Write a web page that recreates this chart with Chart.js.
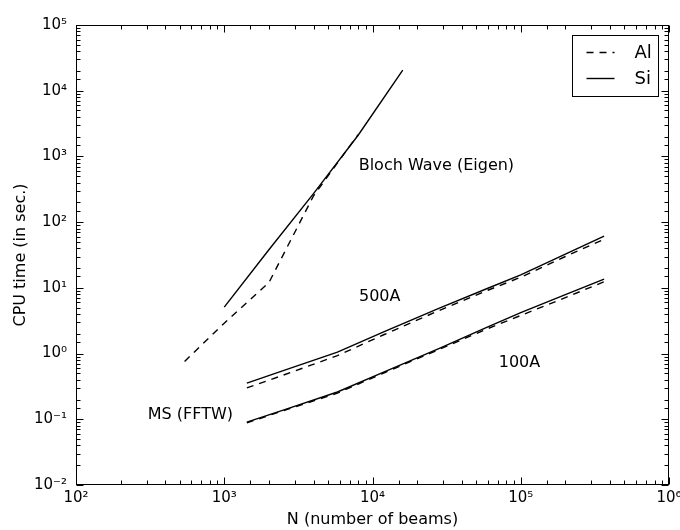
<!DOCTYPE html>
<html>
<head>
<meta charset="utf-8">
<script src="https://cdn.jsdelivr.net/npm/chart.js@4.4.1/dist/chart.umd.min.js"></script>
<style>
html, body { margin: 0; padding: 0; background: #fff; }
#wrap { width: 680px; height: 530px; }
</style>
</head>
<body>
<div id="wrap"><canvas id="chart" width="680" height="530"></canvas></div>
<script>
// Bloch wave (Eigen) timings
const blochAlN = [540, 1000, 2000, 4000, 8000];
const blochAlT = [0.76, 2.9, 12, 251, 2150];
const blochSiN = [1000, 2000, 4000, 8000, 16000];
const blochSiT = [5.1, 38, 272, 2100, 20600];

// multislice (FFTW) timings
const msN = [1420, 2500, 5800, 12000, 28000, 60000, 100000, 200000, 365000];
const ms500AlT = [0.30, 0.47, 0.93, 1.95, 4.5, 9.2, 14.5, 30, 55];
const ms500SiT = [0.356, 0.55, 1.05, 2.15, 4.86, 9.86, 15.8, 32.7, 61.4];
const ms100AlT = [0.088, 0.135, 0.25, 0.51, 1.15, 2.4, 3.8, 7.1, 12.4];
const ms100SiT = [0.0906, 0.138, 0.26, 0.526, 1.19, 2.55, 4.19, 7.87, 13.6];

const xRange = [1e2, 1e6];
const yRange = [1e-2, 1e5];

// text notes placed in data space
const notes = [
    { text: 'Bloch Wave (Eigen)', x: 8070, y: 715 },
    { text: '500A', x: 8110, y: 7.26 },
    { text: '100A', x: 71000, y: 0.718 },
    { text: 'MS (FFTW)', x: 305, y: 0.116 }
];
const legendLabels = ['Al', 'Si'];

const FONT = 'DejaVu Sans';
const DASH = [7, 6];

const sup = { '0': '\u2070', '1': '\u00b9', '2': '\u00b2', '3': '\u00b3', '4': '\u2074',
    '5': '\u2075', '6': '\u2076', '7': '\u2077', '8': '\u2078', '9': '\u2079', '-': '\u207b' };

function isPow10(v) {
    const e = Math.log10(v);
    return Math.abs(e - Math.round(e)) < 1e-9;
}
function powLabel(v) {
    if (!isPow10(v)) return '';
    const e = String(Math.round(Math.log10(v)));
    return '10' + e.split('').map(c => sup[c]).join('');
}
function pts(xs, ys) {
    return xs.map((x, i) => ({ x: x, y: ys[i] }));
}
function series(label, xs, ys, dashed) {
    return {
        label: label,
        data: pts(xs, ys),
        borderColor: '#000',
        borderWidth: 1.4,
        borderDash: dashed ? DASH : [],
        pointRadius: 0,
        tension: 0,
        fill: false
    };
}

const framePlugin = {
    id: 'frame',
    afterDraw(chart) {
        const { ctx, chartArea: a, scales } = chart;
        const L = Math.round(a.left) + 0.5, R = Math.round(a.right) - 0.5;
        const T = Math.round(a.top) + 0.5, B = Math.round(a.bottom) - 0.5;
        ctx.save();
        ctx.strokeStyle = '#000';
        ctx.lineWidth = 1;
        ctx.setLineDash([]);
        ctx.strokeRect(L, T, R - L, B - T);
        ctx.beginPath();
        scales.x.ticks.forEach(t => {
            const p = Math.round(scales.x.getPixelForValue(t.value)) + 0.5;
            const len = isPow10(t.value) ? 7 : 4;
            ctx.moveTo(p, B); ctx.lineTo(p, B - len);
            ctx.moveTo(p, T); ctx.lineTo(p, T + len);
        });
        scales.y.ticks.forEach(t => {
            const p = Math.round(scales.y.getPixelForValue(t.value)) + 0.5;
            const len = isPow10(t.value) ? 7 : 4;
            ctx.moveTo(L, p); ctx.lineTo(L + len, p);
            ctx.moveTo(R, p); ctx.lineTo(R - len, p);
        });
        ctx.stroke();

        // notes
        ctx.fillStyle = '#000';
        ctx.font = '16px "' + FONT + '"';
        ctx.textBaseline = 'middle';
        ctx.textAlign = 'left';
        notes.forEach(n => {
            ctx.fillText(n.text, scales.x.getPixelForValue(n.x), scales.y.getPixelForValue(n.y));
        });

        // legend box
        const bx = Math.round(a.right) - 96.5, by = Math.round(a.top) + 10.5;
        ctx.fillStyle = '#fff';
        ctx.fillRect(bx, by, 86, 61);
        ctx.strokeRect(bx, by, 86, 61);
        ctx.font = '18px "' + FONT + '"';
        ctx.fillStyle = '#000';
        legendLabels.forEach((lab, i) => {
            const yy = by + 17 + i * 26;
            ctx.lineWidth = 1.4;
            ctx.setLineDash(lab === 'Al' ? DASH : []);
            ctx.beginPath();
            ctx.moveTo(bx + 14, yy);
            ctx.lineTo(bx + 42, yy);
            ctx.stroke();
            ctx.setLineDash([]);
            ctx.fillText(lab, bx + 62, yy + 1);
        });
        ctx.restore();
    }
};

const ctx = document.querySelector('#chart').getContext('2d');
new Chart(ctx, {
    type: 'line',
    data: {
        datasets: [
            series('Al', blochAlN, blochAlT, true),
            series('Si', blochSiN, blochSiT, false),
            series('Al', msN, ms500AlT, true),
            series('Si', msN, ms500SiT, false),
            series('Al', msN, ms100AlT, true),
            series('Si', msN, ms100SiT, false)
        ]
    },
    options: {
        responsive: false,
        animation: false,
        layout: { padding: { top: 25, right: 11, left: 0, bottom: 0 } },
        plugins: { legend: { display: false }, tooltip: { enabled: false } },
        scales: {
            x: {
                type: 'logarithmic',
                min: xRange[0],
                max: xRange[1],
                grid: { display: false, drawTicks: false },
                border: { display: false },
                ticks: {
                    autoSkip: false, maxRotation: 0, padding: 4, color: '#000',
                    font: { family: FONT, size: 15 },
                    callback: powLabel
                },
                title: {
                    display: true, text: 'N (number of beams)', color: '#000',
                    font: { family: FONT, size: 16 }, padding: { top: 0, bottom: 1 }
                },
                afterFit: s => { s.height = 45; s.paddingLeft = 0; s.paddingRight = 0; }
            },
            y: {
                type: 'logarithmic',
                min: yRange[0],
                max: yRange[1],
                grid: { display: false, drawTicks: false },
                border: { display: false },
                ticks: {
                    autoSkip: false, padding: 9, color: '#000',
                    font: { family: FONT, size: 15 },
                    callback: powLabel
                },
                title: {
                    display: true, text: 'CPU time (in sec.)', color: '#000',
                    font: { family: FONT, size: 16 }, padding: { top: 11, bottom: 0 }
                },
                afterFit: s => { s.width = 76; s.paddingTop = 0; s.paddingBottom = 0; }
            }
        }
    },
    plugins: [framePlugin]
});
</script>
</body>
</html>
